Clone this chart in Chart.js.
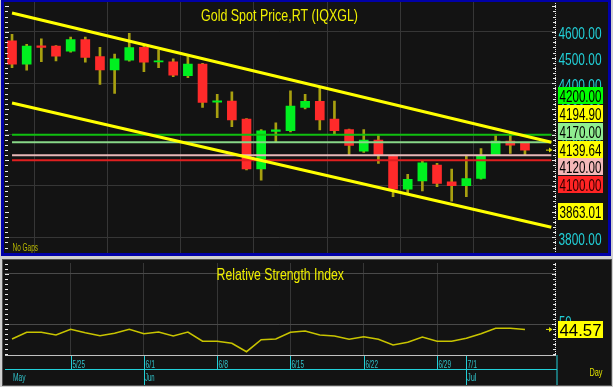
<!DOCTYPE html>
<html><head><meta charset="utf-8">
<script src="https://cdn.jsdelivr.net/npm/chart.js@4/dist/chart.umd.min.js"></script>
<style>
html,body{margin:0;padding:0;background:#d0d0d0;width:613px;height:387px;overflow:hidden}
canvas{position:absolute;left:0}
#c1{top:0}
#c2{top:258px}
</style></head><body>
<canvas id="c1" width="613" height="258"></canvas>
<canvas id="c2" width="613" height="129"></canvas>
<script>
// ---------- DATA ----------
const dates = ['5/19','5/20','5/21','5/22','5/25','5/26','5/27','5/28','5/29',
  '6/1','6/2','6/3','6/4','6/5','6/8','6/9','6/10','6/11','6/12',
  '6/15','6/16','6/17','6/18','6/19','6/22','6/23','6/24','6/25','6/26',
  '6/29','6/30','7/1','7/2','7/3','7/6','7/7'];
const opens  = [4566,4475,4546,4545,4525,4570,4504,4452,4490,4540,4483,4484,4430,4475,4327,4331,4261,4066,4213,4215,4306,4330,4261,4220,4136,4179,4118,3987,4020,4081,4016,4001,4029,4120,4175,4166];
const highs  = [4591,4552,4573,4547,4580,4580,4540,4514,4595,4545,4530,4495,4504,4478,4357,4367,4263,4220,4246,4371,4357,4380,4331,4222,4220,4196,4120,4045,4097,4088,4066,4118,4146,4196,4205,4166];
const lows   = [4461,4451,4484,4487,4521,4482,4396,4361,4486,4445,4461,4426,4422,4306,4266,4231,4062,4023,4170,4211,4300,4218,4202,4118,4131,4088,3958,3971,3981,3997,3941,3958,4026,4118,4127,4118];
const closes = [4475,4545,4540,4506,4570,4501,4452,4495,4539,4482,4488,4432,4475,4326,4332,4257,4066,4215,4219,4311,4330,4257,4215,4158,4179,4120,3987,4026,4090,4010,4001,4029,4118,4175,4159,4139.64];
const rsi    = [35,41.7,41.7,39,44.7,41.3,38.3,40.7,44.7,40.3,42,38,42,32.7,32.7,30.7,22.3,34.3,35,41.7,43,39,38,34.7,37.3,34.7,29,31.7,37,32.7,32.7,35.7,40.3,45.7,45.7,44.57];
const upperTrend = [4674, 4194.90];   // trend line value at first bar and at last bar
const lowerTrend = [4323, 3863.01];
const levelValues = [4200, 4170, 4120, 4100];
const priceTicks = [3800,3900,4000,4100,4200,4300,4400,4500,4600];
const priceGridTicks = [3800,4000,4200,4400,4600];
const rsiGridTicks = [50,100];
const rsiLabelTicks = [50];
const weekTickIdx = [4,9,14,19,24,29,31];
const weekTickLabels = ['5/25','6/1','6/8','6/15','6/22','6/29','7/1'];
const gridWeekIdx = [4,9,14,19,24,29];
const monthTickIdx = [9,31];
const monthLabelIdx = [0,9,31];
const monthLabels = ['May','Jun','Jul'];

// ---------- STYLE ----------
const BG = '#131313', GRID = '#363636', CYAN = '#22d0d8', YEL = '#f0f000';
const UP = '#00f020', DOWN = '#ff2a2a', WICK = '#a8a010';
const levelColors = ['#10c010','#88d888','#e8b8b8','#e02020'];
const FAM = "'Liberation Sans Narrow','Arial Narrow','Liberation Sans',sans-serif";
const xMin = -0.5, xMax = 37.05, lineEnd = 36.8;
const last = dates.length - 1;

function trendPoints(tr) {
  const slope = (tr[1] - tr[0]) / last;
  return [{x:0, y:tr[0]}, {x:lineEnd, y:tr[0] + slope*lineEnd}];
}
function fitText(ctx, text, x, y, width, size, color) {
  ctx.save();
  ctx.font = size + 'px ' + FAM;
  const w = ctx.measureText(text).width;
  ctx.translate(x, y);
  ctx.scale(width / w, 1);
  ctx.fillStyle = color;
  ctx.textBaseline = 'alphabetic';
  ctx.textAlign = 'left';
  ctx.fillText(text, 0, 0);
  ctx.restore();
}
function box(ctx, text, yc, bg, fg) {
  ctx.fillStyle = bg;
  ctx.fillRect(558, Math.round(yc - 8.5), 45, 17);
  fitText(ctx, text, 559.5, yc + 6.5, 42, 17, fg);
}
function arrow(ctx, y) {
  ctx.fillStyle = '#e0e000';
  ctx.beginPath(); ctx.moveTo(549, y - 2.5); ctx.lineTo(552.5, y); ctx.lineTo(549, y + 2.5); ctx.closePath(); ctx.fill();
  ctx.fillRect(546, y - 0.5, 4, 1);
}
function axisTicks(ctx, ys, step, lo, hi, majorEvery, top, bottom) {
  ctx.fillStyle = '#e8e8e8';
  for (let v = Math.ceil(lo/step)*step; v <= hi; v += step) {
    const y = Math.round(ys.getPixelForValue(v));
    if (y < top || y > bottom) continue;
    const major = Math.abs(v % majorEvery) < 1e-6;
    ctx.fillRect(5, y, major ? 4 : 3, 1);
    ctx.fillRect(major ? 552 : 553, y, major ? 4 : 3, 1);
  }
  for (let y = top; y < bottom; y += 2) ctx.fillRect(555, y, 1, 1);
}

// ---------- PRICE PANEL ----------
const yMax = 4716.9, yMin = 3738.7;
const pricePlugin = {
  id: 'pricePanel',
  beforeDraw(chart) {
    const c = chart.ctx;
    c.save();
    c.fillStyle = '#d0d0d0'; c.fillRect(0, 0, 613, 258);
    c.fillStyle = '#0000a8'; c.fillRect(1, 0, 610, 256);
    c.fillStyle = BG; c.fillRect(4, 2, 604, 251);
    c.restore();
  },
  afterDraw(chart) {
    const c = chart.ctx, ys = chart.scales.y;
    c.save();
    axisTicks(c, ys, 20, yMin, yMax, 100, 3, 252);
    // tick labels of the price axis
    priceTicks.forEach(v => fitText(c, v.toFixed(2), 558.5, ys.getPixelForValue(v) + 7.5, 43, 17, CYAN));
    fitText(c, 'Gold Spot Price,RT (IQXGL)', 201, 21, 157, 17, YEL);
    fitText(c, 'No Gaps', 12.5, 251, 25.5, 10, '#b8b800');
    // value boxes on the right axis
    const lastPx = ys.getPixelForValue(closes[last]) - 1;
    const sp = 17.8;
    const cluster = [
      [levelValues[0], '#00ff00', '#000'],
      [upperTrend[1], '#ffff00', '#000'],
      [levelValues[1], '#90ee90', '#000'],
      [closes[last], '#ffff00', '#000'],
      [levelValues[2], '#f4b8b8', '#000'],
      [levelValues[3], '#ff2424', '#300000'],
    ];
    cluster.forEach((b, k) => box(c, b[0].toFixed(2), lastPx + (k - 3) * sp, b[1], b[2]));
    box(c, lowerTrend[1].toFixed(2), ys.getPixelForValue(lowerTrend[1]) - 9.5, '#ffff00', '#000');
    arrow(c, ys.getPixelForValue(closes[last]));
    c.restore();
  }
};

new Chart(document.getElementById('c1'), {
  type: 'bar',
  data: { datasets: [
    ...levelValues.map((v, k) => ({ type:'line', data:[{x:0,y:v},{x:lineEnd,y:v}], borderColor:levelColors[k], borderWidth:2, pointRadius:0, order:0 })),
    { type:'line', data:trendPoints(upperTrend), borderColor:'#ffff00', borderWidth:3, pointRadius:0, order:-1 },
    { type:'line', data:trendPoints(lowerTrend), borderColor:'#ffff00', borderWidth:3, pointRadius:0, order:-1 },
    { type:'bar', data:dates.map((d,i)=>({x:i, y:[opens[i], closes[i]]})), backgroundColor:dates.map((d,i)=>closes[i] >= opens[i] ? UP : DOWN), barThickness:9, grouped:false, order:1 },
    { type:'bar', data:dates.map((d,i)=>({x:i, y:[lows[i], highs[i]]})), backgroundColor:WICK, barThickness:2, grouped:false, order:2 },
  ]},
  options: {
    responsive:false, animation:false, devicePixelRatio:1,
    layout:{ padding:{ left:4.7, top:2, right:0, bottom:5 } },
    plugins:{ legend:{display:false}, tooltip:{enabled:false} },
    scales: {
      x: { type:'linear', min:xMin, max:xMax, offset:false,
           afterBuildTicks:s=>{ s.ticks = gridWeekIdx.map(v=>({value:v})); },
           ticks:{display:false}, grid:{color:GRID, drawTicks:false}, border:{display:false},
           afterFit:s=>{ s.height = 0; } },
      y: { type:'linear', position:'right', min:yMin, max:yMax,
           afterBuildTicks:s=>{ s.ticks = priceGridTicks.map(v=>({value:v})); },
           ticks:{ display:false },
           grid:{ color:GRID, drawTicks:false },
           border:{display:false},
           afterFit:s=>{ s.width = 58; } }
    }
  },
  plugins:[pricePlugin]
});

// ---------- RSI PANEL ----------
const rMin = 19, rMax = 111;
const rsiPlugin = {
  id: 'rsiPanel',
  beforeDraw(chart) {
    const c = chart.ctx;
    c.save();
    c.fillStyle = '#d0d0d0'; c.fillRect(0, 0, 613, 129);
    c.fillStyle = '#505050'; c.fillRect(2, 1, 610, 127);
    c.fillStyle = BG; c.fillRect(3, 2, 608, 125);
    c.restore();
  },
  afterDraw(chart) {
    const c = chart.ctx, ys = chart.scales.y, xs = chart.scales.x;
    c.save();
    axisTicks(c, ys, 5, rMin, rMax, 50, 5, 96);
    c.fillStyle = '#c0c0c0'; c.fillRect(5, 97, 551, 1);
    fitText(c, 'Relative Strength Index', 216.6, 22, 127.4, 17, YEL);
    rsiLabelTicks.forEach(v => fitText(c, String(v), 559, ys.getPixelForValue(v) + 4, 12.5, 17, CYAN));
    // x axis region
    c.fillStyle = CYAN;
    c.fillRect(5, 111, 552, 1);
    c.fillRect(556.5, 97, 1, 30);
    weekTickIdx.forEach((idx, k) => {
      const x = Math.round(xs.getPixelForValue(idx));
      c.fillStyle = CYAN;
      c.fillRect(x, 98, 1, 13);
      fitText(c, weekTickLabels[k], x + 1.5, 110, weekTickLabels[k].length === 4 ? 12.5 : 9.5, 10, '#30c0c8');
    });
    c.fillStyle = CYAN;
    monthTickIdx.forEach(idx => {
      const x = Math.round(xs.getPixelForValue(idx));
      c.fillRect(x, 112, 1, 15);
    });
    monthLabelIdx.forEach((idx, k) => {
      const x = Math.round(xs.getPixelForValue(idx)) + 1;
      fitText(c, monthLabels[k], x, 123, monthLabels[k] === 'May' ? 12.5 : 9.5, 10, '#30c0c8');
    });
    fitText(c, 'Day', 589.5, 118, 13, 11, '#e0e000');
    const ly = ys.getPixelForValue(rsi[last]);
    box(c, rsi[last].toFixed(2), ly, '#ffff00', '#000');
    arrow(c, ly);
    c.restore();
  }
};

new Chart(document.getElementById('c2'), {
  type: 'line',
  data: { datasets: [
    { data:dates.map((d,i)=>({x:i, y:rsi[i]})), borderColor:'#c8c400', borderWidth:1.6, pointRadius:0, tension:0 }
  ]},
  options: {
    responsive:false, animation:false, devicePixelRatio:1,
    layout:{ padding:{ left:4.7, top:5, right:0, bottom:32 } },
    plugins:{ legend:{display:false}, tooltip:{enabled:false} },
    scales: {
      x: { type:'linear', min:xMin, max:xMax, offset:false,
           afterBuildTicks:s=>{ s.ticks = gridWeekIdx.map(v=>({value:v})); },
           ticks:{display:false}, grid:{color:GRID, drawTicks:false}, border:{display:false},
           afterFit:s=>{ s.height = 0; } },
      y: { type:'linear', position:'right', min:rMin, max:rMax,
           afterBuildTicks:s=>{ s.ticks = rsiGridTicks.map(v=>({value:v})); },
           ticks:{ display:false },
           grid:{ color:'#4a4a4a', drawTicks:false, lineWidth:1 },
           border:{display:false},
           afterFit:s=>{ s.width = 58; } }
    }
  },
  plugins:[rsiPlugin]
});
</script>
</body></html>
